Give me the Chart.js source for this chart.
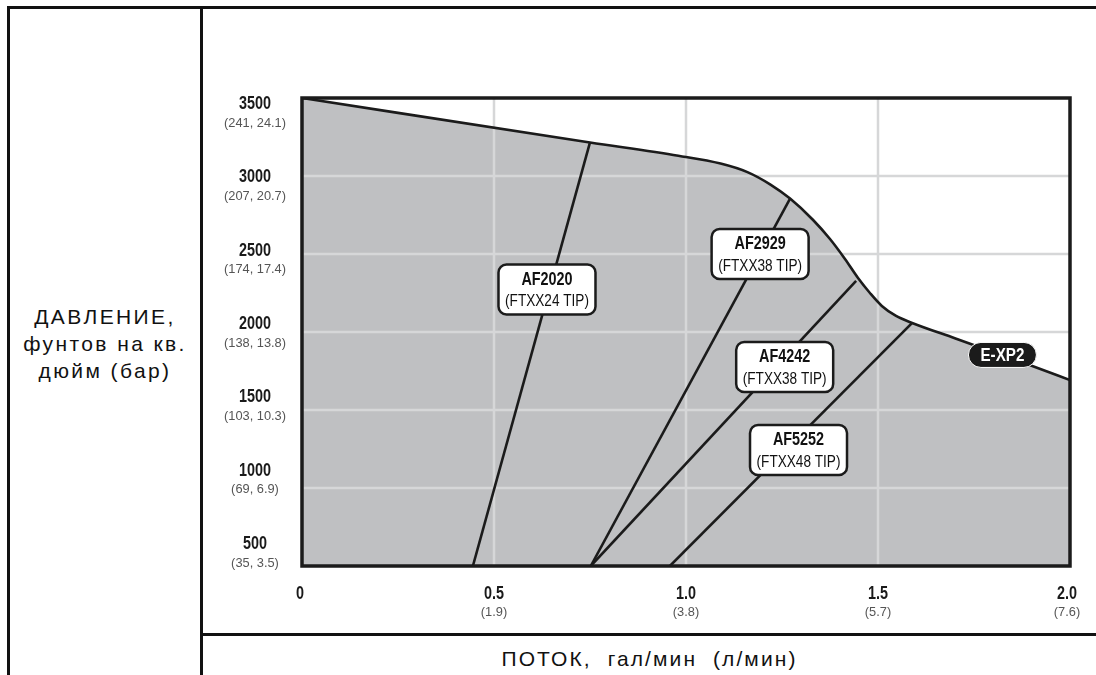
<!DOCTYPE html>
<html lang="ru">
<head>
<meta charset="utf-8">
<title>E-XP2 — давление / поток</title>
<script src="https://cdn.jsdelivr.net/npm/chart.js@4.4.1/dist/chart.umd.min.js"></script>
<style>
  html, body { margin: 0; padding: 0; background: #fff; }
  #page {
    position: relative;
    width: 1096px;
    height: 675px;
    overflow: hidden;
    font-family: 'Liberation Sans', Arial, sans-serif;
    color: #111;
  }
  .rule { position: absolute; background: #111; }
  #yTitle {
    position: absolute;
    left: 10px;
    width: 190px;
    top: 303px;
    text-align: center;
    font-size: 21px;
    line-height: 27px;
    letter-spacing: 2.4px;
  }
  #xTitle {
    position: absolute;
    left: 203px;
    width: 893px;
    top: 647px;
    text-align: center;
    font-size: 21px;
    letter-spacing: 2.1px;
    white-space: pre;
  }
  #chart { position: absolute; left: 0; top: 0; }
</style>
</head>
<body>
<div id="page">
  <div class="rule" style="left:7px; top:6px; width:1089px; height:3px;"></div>
  <div class="rule" style="left:7px; top:6px; width:3px; height:669px;"></div>
  <div class="rule" style="left:200px; top:6px; width:3px; height:669px;"></div>
  <div class="rule" style="left:200px; top:633px; width:896px; height:3px;"></div>
  <div id="yTitle">ДАВЛЕНИЕ,<br>фунтов на кв.<br>дюйм (бар)</div>
  <div id="xTitle">ПОТОК,  гал/мин  (л/мин)</div>
  <canvas id="chart" width="1096" height="675"></canvas>
</div>

<script>
// axis ticks
const flowTicks = [0, 0.5, 1.0, 1.5, 2.0];
const flowTickLabels = ['0', '0.5', '1.0', '1.5', '2.0'];
const flowTickSub = ['', '(1.9)', '(3.8)', '(5.7)', '(7.6)'];

const psiTicks = [500, 1000, 1500, 2000, 2500, 3000, 3500];
const psiTickLabels = ['500', '1000', '1500', '2000', '2500', '3000', '3500'];
const psiTickSub = ['(35, 3.5)', '(69, 6.9)', '(103, 10.3)', '(138, 13.8)', '(174, 17.4)', '(207, 20.7)', '(241, 24.1)'];

// E-XP2 pump envelope (gpm, psi)
const envelopeFlow = [0, 0.75, 0.98, 1.09, 1.16, 1.22, 1.271, 1.331, 1.375, 1.414, 1.448, 1.479, 1.51, 1.547, 1.589, 1.70, 1.80, 1.90, 2.0];
const envelopePsi = [3500, 3215, 3130, 3080, 3025, 2945, 2855, 2718, 2596, 2468, 2346, 2250, 2167, 2103, 2058, 1960, 1872, 1784, 1692];

// tip lines
const tipNames = ['AF2020', 'AF2929', 'AF4242', 'AF5252'];
const tipSizes = ['(FTXX24 TIP)', '(FTXX38 TIP)', '(FTXX38 TIP)', '(FTXX48 TIP)'];
const tipFlowLow = [0.445, 0.752, 0.752, 0.958];
const tipPsiLow = [500, 500, 500, 500];
const tipFlowHigh = [0.75, 1.271, 1.443, 1.589];
const tipPsiHigh = [3215, 2855, 2327, 2058];

// where the tag boxes sit (data coordinates)
const tipLabelFlow = [0.638, 1.193, 1.257, 1.293];
const tipLabelPsi = [2272, 2500, 1776, 1244];
const pumpName = 'E-XP2';
const pumpLabelFlow = [1.824];
const pumpLabelPsi = [1853];

const INK = '#1b1b1b';
const FILL = '#bfc0c2';
const GRID = '#d6d7d8';
const SANS = "'Liberation Sans', Arial, sans-serif";
const SQUEEZE = 0.8; // fake a condensed face

const envelopePoints = envelopeFlow.map((x, i) => ({ x, y: envelopePsi[i] }));

/**
 * Rounded rectangle path
 */
function roundRect(ctx, x, y, w, h, r) {
  ctx.beginPath();
  ctx.moveTo(x + r, y);
  ctx.arcTo(x + w, y, x + w, y + h, r);
  ctx.arcTo(x + w, y + h, x, y + h, r);
  ctx.arcTo(x, y + h, x, y, r);
  ctx.arcTo(x, y, x + w, y, r);
  ctx.closePath();
}

/**
 * Text drawn horizontally squeezed (no condensed font installed)
 */
function narrowText(ctx, text, x, y, font, color, sx) {
  ctx.save();
  ctx.translate(x, y);
  ctx.scale(sx || SQUEEZE, 1);
  ctx.font = font;
  ctx.fillStyle = color;
  ctx.textAlign = 'center';
  ctx.textBaseline = 'middle';
  ctx.fillText(text, 0, 0);
  ctx.restore();
}

const chartDecor = {
  id: 'chartDecor',

  // grid goes on top of the grey fill but under the black lines
  afterDatasetDraw(chart, args) {
    if (chart.data.datasets[args.index].label !== 'fill') return;
    const { ctx, chartArea, scales } = chart;
    ctx.save();
    ctx.strokeStyle = GRID;
    ctx.lineWidth = 2.5;
    ctx.beginPath();
    flowTicks.slice(1, -1).forEach(v => {
      const x = Math.round(scales.x.getPixelForValue(v));
      ctx.moveTo(x, chartArea.top);
      ctx.lineTo(x, chartArea.bottom);
    });
    psiTicks.slice(1, -1).forEach(v => {
      const y = Math.round(scales.y.getPixelForValue(v));
      ctx.moveTo(chartArea.left, y);
      ctx.lineTo(chartArea.right, y);
    });
    ctx.stroke();
    ctx.restore();
  },

  afterDatasetsDraw(chart) {
    const { ctx, chartArea, scales } = chart;
    ctx.save();

    // plot frame
    ctx.strokeStyle = INK;
    ctx.lineWidth = 3.5;
    ctx.strokeRect(chartArea.left, chartArea.top, chartArea.right - chartArea.left, chartArea.bottom - chartArea.top);

    // tip tags
    const w = 97, h = 50;
    tipNames.forEach((name, i) => {
      const cx = scales.x.getPixelForValue(tipLabelFlow[i]);
      const cy = scales.y.getPixelForValue(tipLabelPsi[i]);
      roundRect(ctx, cx - w / 2, cy - h / 2, w, h, 8);
      ctx.fillStyle = '#fff';
      ctx.fill();
      ctx.lineWidth = 2.5;
      ctx.strokeStyle = INK;
      ctx.stroke();
      narrowText(ctx, name, cx, cy - 10, 'bold 18px ' + SANS, '#111');
      narrowText(ctx, tipSizes[i], cx, cy + 12, '17px ' + SANS, '#111');
    });

    // pump tag
    const px = scales.x.getPixelForValue(pumpLabelFlow[0]);
    const py = scales.y.getPixelForValue(pumpLabelPsi[0]);
    roundRect(ctx, px - 34, py - 12.5, 68, 25, 12.5);
    ctx.fillStyle = INK;
    ctx.fill();
    ctx.lineWidth = 1;
    ctx.strokeStyle = '#fff';
    ctx.stroke();
    narrowText(ctx, pumpName, px, py + 1, 'bold 19px ' + SANS, '#fff');

    ctx.restore();
  },

  // two-line tick labels: bold value + metric value underneath
  afterDraw(chart) {
    const { ctx, chartArea, scales } = chart;

    const mid = (chartArea.top + chartArea.bottom) / 2;
    const lx = chartArea.left - 47;
    psiTicks.forEach((v, i) => {
      const ty = scales.y.getPixelForValue(v);
      const cy = mid + (ty - mid) * 0.94 + 1;
      narrowText(ctx, psiTickLabels[i], lx, cy - 9, 'bold 18px ' + SANS, '#1a1a1a');
      narrowText(ctx, psiTickSub[i], lx, cy + 10, '13.5px ' + SANS, '#555', 0.95);
    });

    flowTicks.forEach((v, i) => {
      let tx = scales.x.getPixelForValue(v);
      if (i === 0) tx -= 2;
      if (i === flowTicks.length - 1) tx -= 3;
      narrowText(ctx, flowTickLabels[i], tx, chartArea.bottom + 28, 'bold 18px ' + SANS, '#1a1a1a');
      if (flowTickSub[i]) {
        narrowText(ctx, flowTickSub[i], tx, chartArea.bottom + 46, '13.5px ' + SANS, '#555', 0.95);
      }
    });
  }
};

const datasets = [
  {
    label: 'fill',
    data: envelopePoints,
    showLine: true,
    fill: 'start',
    backgroundColor: FILL,
    borderWidth: 0,
    pointRadius: 0,
    cubicInterpolationMode: 'monotone',
    order: 10
  },
  {
    label: pumpName,
    data: envelopePoints,
    showLine: true,
    fill: false,
    borderColor: INK,
    borderWidth: 2.6,
    pointRadius: 0,
    cubicInterpolationMode: 'monotone',
    order: 1
  }
];

tipNames.forEach((name, i) => {
  datasets.push({
    label: name,
    data: [
      { x: tipFlowLow[i], y: tipPsiLow[i] },
      { x: tipFlowHigh[i], y: tipPsiHigh[i] }
    ],
    showLine: true,
    fill: false,
    borderColor: INK,
    borderWidth: 2.6,
    pointRadius: 0,
    order: 1
  });
});

new Chart(document.getElementById('chart'), {
  type: 'scatter',
  data: { datasets },
  options: {
    responsive: false,
    animation: false,
    events: [],
    layout: {
      padding: { left: 302, top: 98, right: 26, bottom: 109 }
    },
    plugins: {
      legend: { display: false },
      tooltip: { enabled: false }
    },
    scales: {
      x: { type: 'linear', min: 0, max: 2, display: false },
      y: { type: 'linear', min: 500, max: 3500, display: false }
    }
  },
  plugins: [chartDecor]
});
</script>
</body>
</html>
